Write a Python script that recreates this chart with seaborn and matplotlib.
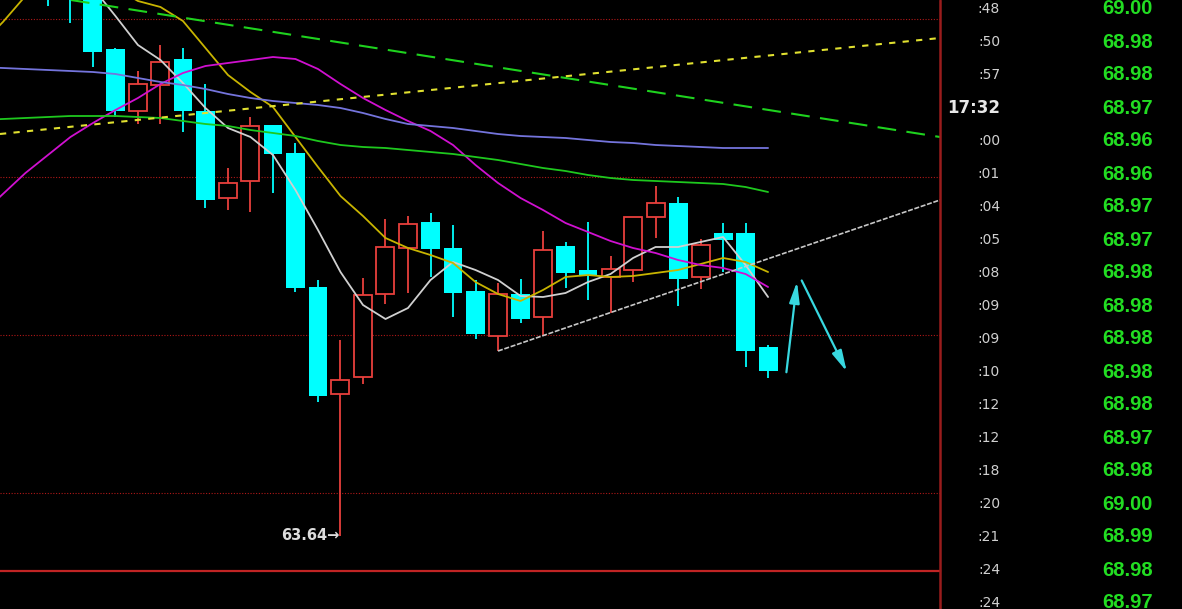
import numpy as np
import pandas as pd
import matplotlib
matplotlib.use("Agg")
import matplotlib.pyplot as plt
import seaborn as sns
from matplotlib.lines import Line2D


# ==============================
# Data
# ==============================
candle_idx = list(range(-2, 31))
opens = [69.30, 69.25, 69.15, 68.51, 67.89, 68.15, 68.41, 67.89, 67.02, 67.19,
         67.75, 67.47, 66.13, 65.06, 65.23, 66.06, 66.52, 66.78, 66.52, 66.09,
         65.64, 66.06, 65.83, 66.54, 66.30, 66.23, 66.30, 66.83, 66.97, 66.23,
         66.67, 66.67, 65.53]
highs = [69.45, 69.35, 69.25, 68.52, 68.29, 68.55, 68.52, 68.16, 67.32, 67.83,
         67.75, 67.57, 66.20, 65.60, 66.22, 66.81, 66.84, 66.87, 66.75, 66.20,
         66.17, 66.21, 66.69, 66.58, 66.78, 66.44, 66.83, 67.14, 67.03, 66.61,
         66.77, 66.77, 65.55]
lows = [68.94, 68.77, 68.33, 67.83, 67.76, 67.76, 67.68, 66.92, 66.90, 66.88,
        67.07, 66.08, 64.98, 63.64, 65.16, 65.96, 66.07, 66.23, 65.83, 65.61,
        65.49, 65.77, 65.65, 66.12, 66.00, 65.87, 66.18, 66.62, 65.94, 66.11,
        66.28, 65.33, 65.22]
closes = [69.05, 69.04, 68.48, 67.89, 68.16, 68.38, 67.89, 67.00, 67.17, 67.74,
          67.46, 66.12, 65.04, 65.20, 66.05, 66.53, 66.76, 66.51, 66.07, 65.66,
          66.06, 65.81, 66.50, 66.27, 66.24, 66.31, 66.83, 66.97, 66.21, 66.55,
          66.60, 65.49, 65.29]

# moving averages, index -5 .. 30
ma_idx = list(range(-5, 31))
ma_white = [np.nan, np.nan, np.nan, np.nan, np.nan,
            69.12, 68.84, 68.55, 68.40, 68.17, 67.92, 67.72, 67.63, 67.45, 67.10,
            66.70, 66.28, 65.95, 65.81, 65.92, 66.20, 66.38, 66.30, 66.20, 66.04,
            66.03, 66.07, 66.18, 66.26, 66.42, 66.53, 66.53, 66.58, 66.63, 66.35,
            66.03]
ma_yellow = [68.55, 68.78, 69.04, 69.20, 69.28, 69.25, 69.12, 68.99, 68.93, 68.79,
             68.52, 68.25, 68.08, 67.93, 67.63, 67.33, 67.04, 66.84, 66.62, 66.52,
             66.45, 66.37, 66.18, 66.06, 65.99, 66.10, 66.23, 66.25, 66.23, 66.24,
             66.27, 66.30, 66.36, 66.42, 66.38, 66.28]
ma_magenta = [66.85, 67.06, 67.27, 67.45, 67.63, 67.77, 67.90, 68.02, 68.16, 68.27,
              68.34, 68.37, 68.40, 68.43, 68.41, 68.31, 68.16, 68.02, 67.90, 67.79,
              67.69, 67.55, 67.35, 67.17, 67.02, 66.90, 66.77, 66.68, 66.59, 66.52,
              66.47, 66.40, 66.35, 66.32, 66.26, 66.13]
ma_blue = [68.33, 68.32, 68.31, 68.30, 68.29, 68.28, 68.26, 68.22, 68.18, 68.15,
           68.11, 68.06, 68.02, 67.99, 67.97, 67.95, 67.92, 67.87, 67.81, 67.76,
           67.74, 67.72, 67.69, 67.66, 67.64, 67.63, 67.62, 67.60, 67.58, 67.57,
           67.55, 67.54, 67.53, 67.52, 67.52, 67.52]
ma_green = [67.80, 67.81, 67.82, 67.83, 67.84, 67.84, 67.84, 67.83, 67.82, 67.79,
            67.76, 67.74, 67.70, 67.67, 67.64, 67.59, 67.55, 67.53, 67.52, 67.50,
            67.48, 67.46, 67.43, 67.40, 67.36, 67.32, 67.29, 67.25, 67.22, 67.20,
            67.19, 67.18, 67.17, 67.16, 67.13, 67.08]

# hand drawn lines (index, price)
trend_green_x, trend_green_y = [-0.98, 37.64], [69.00, 67.63]
trend_yellow_x, trend_yellow_y = [-4.13, 37.64], [67.66, 68.62]
trend_white_x, trend_white_y = [18.0, 37.64], [65.49, 67.00]
arrow_up_x, arrow_up_y = [30.8, 31.3], [65.25, 66.21]
arrow_dn_x, arrow_dn_y = [31.44, 33.55], [66.22, 65.26]

grid_levels = [68.81, 67.23, 65.65, 64.07]

# quote list on the right
times = [":48", ":50", ":57", "17:32", ":00", ":01", ":04", ":05", ":08", ":09",
         ":09", ":10", ":12", ":12", ":18", ":20", ":21", ":24", ":24"]
quotes = [69.00, 68.98, 68.98, 68.97, 68.96, 68.96, 68.97, 68.97, 68.98, 68.98,
          68.98, 68.98, 68.98, 68.97, 68.98, 69.00, 68.99, 68.98, 68.97]


# ==============================
# Style
# ==============================
sns.set_theme(style="dark", rc={"axes.facecolor": "black",
                                "figure.facecolor": "black",
                                "savefig.facecolor": "black"})
plt.rcParams['font.family'] = ['DejaVu Sans']

RED = "#e8403c"
CYAN = "#00ffff"

fig = plt.figure(figsize=(11.82, 6.09), dpi=100)
ax = fig.add_axes([0, 38 / 609, 940 / 1182, 571 / 609])
ax.set_xlim(-4.13, 37.64)
ax.set_ylim(63.29, 69.00)
ax.set_xticks([])
ax.set_yticks([])
for s in ["top", "left", "right"]:
    ax.spines[s].set_visible(False)
ax.spines["bottom"].set_color("#c02424")
ax.spines["bottom"].set_linewidth(1.6)

# dotted price levels
for lvl in grid_levels:
    ax.axhline(lvl, color="#b01818", lw=0.8, ls=(0, (1, 1.5)), zorder=1)


# ==============================
# Candles
# ==============================
df = pd.DataFrame({"idx": candle_idx, "open": opens, "high": highs,
                   "low": lows, "close": closes})
up = df[df["close"] >= df["open"]]
dn = df[df["close"] < df["open"]]

ax.vlines(up["idx"], up["low"], up["high"], color=RED, lw=1.3, zorder=2)
ax.vlines(dn["idx"], dn["low"], dn["high"], color=CYAN, lw=1.3, zorder=2)
ax.bar(up["idx"], up["close"] - up["open"], bottom=up["open"], width=0.8,
       facecolor="black", edgecolor=RED, linewidth=1.3, zorder=3)
ax.bar(dn["idx"], dn["open"] - dn["close"], bottom=dn["close"], width=0.84,
       color=CYAN, linewidth=0, zorder=3)


# ==============================
# Moving averages
# ==============================
ma = pd.DataFrame({"idx": ma_idx, "white": ma_white, "yellow": ma_yellow,
                   "magenta": ma_magenta, "blue": ma_blue, "green": ma_green})
ma_long = ma.melt(id_vars="idx", var_name="line", value_name="price").dropna()
palette = {"white": "#d0d0d0", "yellow": "#c8b400", "magenta": "#d010d0",
           "blue": "#7474dc", "green": "#1ec81e"}
sns.lineplot(data=ma_long, x="idx", y="price", hue="line", palette=palette,
             linewidth=1.3, legend=False, sort=False, estimator=None, ax=ax,
             zorder=4)

# trend lines
ax.plot(trend_green_x, trend_green_y, color="#1ed21e", lw=1.5,
        dashes=(9, 5), zorder=4)
ax.plot(trend_yellow_x, trend_yellow_y, color="#e0e030", lw=1.5,
        dashes=(3, 3.5), zorder=4)
ax.plot(trend_white_x, trend_white_y, color="#c8c8c8", lw=1.2,
        dashes=(3, 1), zorder=4)

# hand drawn arrows
for xs, ys in [(arrow_up_x, arrow_up_y), (arrow_dn_x, arrow_dn_y)]:
    ax.annotate("", xy=(xs[1], ys[1]), xytext=(xs[0], ys[0]),
                arrowprops=dict(arrowstyle="-|>,head_length=0.9,head_width=0.22",
                                color="#38d8e0", lw=1.6, mutation_scale=14),
                zorder=5)

# lowest price label
low_pos = int(np.argmin(lows))
ax.text(candle_idx[low_pos] - 0.05, lows[low_pos], f"{lows[low_pos]:.2f}\u2192",
        ha="right", va="center", color="#dcdcdc", fontsize=10.5,
        fontweight="bold", zorder=5)

# panel border
fig.add_artist(Line2D([940 / 1182, 940 / 1182], [0, 1], color="#9a1c1c",
                      lw=1.8, transform=fig.transFigure))


# ==============================
# Quote list
# ==============================
ax2 = fig.add_axes([941 / 1182, 0, 241 / 1182, 1])
ax2.set_facecolor("black")
ax2.axis("off")
ax2.set_xlim(0, 1)
ax2.set_ylim(609 / 33 - 9 / 33, -9 / 33)
for i, (t, q) in enumerate(zip(times, quotes)):
    big = ":" not in t[:1]
    ax2.text(0.245, i, t, ha="right", va="center",
             color="#e8e8e8" if big else "#d0d0d0",
             fontsize=12 if big else 10, fontweight="bold" if big else "normal")
    ax2.text(0.878, i, f"{q:.2f}", ha="right", va="center", color="#22dd22",
             fontsize=14.5, fontweight="bold", family="Liberation Sans")

fig.savefig("out.png", dpi=100, facecolor="black")
